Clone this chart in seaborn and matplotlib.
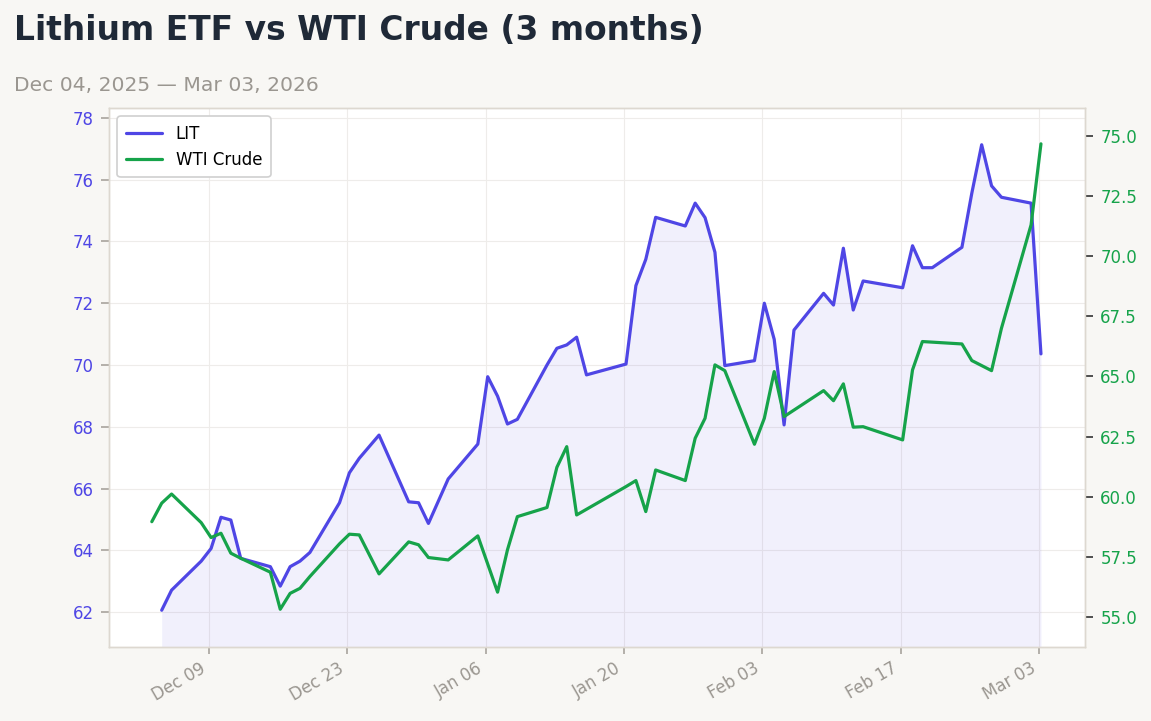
import matplotlib
matplotlib.use("Agg")
import numpy as np
import pandas as pd
import matplotlib.pyplot as plt
import matplotlib.dates as mdates
import matplotlib.ticker as mticker
import seaborn as sns

nan = np.nan

dates = [
    "2025-12-03", "2025-12-04", "2025-12-05", "2025-12-08", "2025-12-09", "2025-12-10",
    "2025-12-11", "2025-12-12", "2025-12-15", "2025-12-16", "2025-12-17", "2025-12-18",
    "2025-12-19", "2025-12-22", "2025-12-23", "2025-12-24", "2025-12-26", "2025-12-29",
    "2025-12-30", "2025-12-31", "2026-01-02", "2026-01-05", "2026-01-06", "2026-01-07",
    "2026-01-08", "2026-01-09", "2026-01-12", "2026-01-13", "2026-01-14", "2026-01-15",
    "2026-01-16", "2026-01-20", "2026-01-21", "2026-01-22", "2026-01-23", "2026-01-26",
    "2026-01-27", "2026-01-28", "2026-01-29", "2026-01-30", "2026-02-02", "2026-02-03",
    "2026-02-04", "2026-02-05", "2026-02-06", "2026-02-09", "2026-02-10", "2026-02-11",
    "2026-02-12", "2026-02-13", "2026-02-17", "2026-02-18", "2026-02-19", "2026-02-20",
    "2026-02-23", "2026-02-24", "2026-02-25", "2026-02-26", "2026-02-27", "2026-03-02",
    "2026-03-03",
]

lit_close = [
    nan, 62.06, 62.71, 63.65, 64.06, 65.07,
    64.98, 63.74, 63.47, 62.84, 63.47, 63.65,
    63.93, 65.54, 66.51, 66.98, 67.73, 65.57,
    65.54, 64.87, 66.31, 67.44, 69.62, 68.99,
    68.09, 68.24, 70.00, 70.54, 70.65, 70.90,
    69.68, 70.03, 72.57, 73.42, 74.78, 74.50,
    75.24, 74.77, 73.65, 69.98, 70.14, 72.00,
    70.83, 68.06, 71.13, 72.32, 71.94, 73.78,
    71.78, 72.72, 72.50, 73.86, 73.15, 73.15,
    73.81, 75.56, 77.13, 75.80, 75.43, 75.24,
    70.36,
]

wti_close = [
    58.96, 59.73, 60.11, 58.92, 58.30, 58.48,
    57.65, 57.44, 56.86, 55.32, 55.98, 56.19,
    56.68, 58.04, 58.44, 58.41, 56.79, 58.12,
    58.00, 57.47, 57.37, 58.37, nan, 56.03,
    57.79, 59.17, 59.55, 61.22, 62.08, 59.24,
    nan, 60.42, 60.67, 59.38, 61.11, 60.67,
    62.43, 63.26, 65.48, 65.24, 62.18, 63.26,
    65.20, 63.33, nan, 64.41, 63.99, 64.69,
    62.89, 62.91, 62.36, 65.27, 66.45, nan,
    66.35, 65.66, nan, 65.24, 67.00, 71.30,
    74.67,
]

series_names = ["LIT", "WTI Crude"]
tick_dates = ["2025-12-09", "2025-12-23", "2026-01-06", "2026-01-20",
              "2026-02-03", "2026-02-17", "2026-03-03"]
lit_ticks = [62, 64, 66, 68, 70, 72, 74, 76, 78]
wti_ticks = [55.0, 57.5, 60.0, 62.5, 65.0, 67.5, 70.0, 72.5, 75.0]

title = "Lithium ETF vs WTI Crude (3 months)"
subtitle = "Dec 04, 2025 \u2014 Mar 03, 2026"

BG = "#F8F7F4"
LIT_C = "#4F46E5"
WTI_C = "#16A34A"
SPINE = "#DDD8D0"
GREY = "#9A9690"
TITLE_C = "#1F2937"

sns.set_style("white")
plt.rcParams["font.family"] = ["DejaVu Sans"]

df = pd.DataFrame({
    "date": pd.to_datetime(dates) + pd.Timedelta(hours=5),
    "LIT": lit_close,
    "WTI Crude": wti_close,
})
lit_df = df.dropna(subset=["LIT"]).reset_index(drop=True)
wti_df = df.dropna(subset=["WTI Crude"]).reset_index(drop=True)

fig = plt.figure(figsize=(11.51, 7.21), dpi=100, facecolor=BG)
ax = fig.add_axes([109 / 1151, 1 - 647 / 721, (1085 - 109) / 1151, (647 - 108) / 721])
ax.set_facecolor("white")
ax2 = ax.twinx()

y_lo, y_hi = 60.87, 78.32
sns.lineplot(data=lit_df, x="date", y="LIT", ax=ax, color=LIT_C, linewidth=2.3,
             label=series_names[0], legend=False)
ax.fill_between(lit_df["date"], lit_df["LIT"], y_lo, color=LIT_C, alpha=0.08, linewidth=0)
sns.lineplot(data=wti_df, x="date", y="WTI Crude", ax=ax2, color=WTI_C, linewidth=2.3,
             label=series_names[1], legend=False)

ax.set_ylim(y_lo, y_hi)
ax2.set_ylim(53.75, 76.16)
ax.set_xlim(pd.Timestamp("2025-11-28 21:00"), pd.Timestamp("2026-03-07 16:00"))

ax.set_xticks(pd.to_datetime(tick_dates))
ax.xaxis.set_major_formatter(mdates.DateFormatter("%b %d"))
ax.set_yticks(lit_ticks)
ax2.set_yticks(wti_ticks)
ax2.yaxis.set_major_formatter(mticker.FormatStrFormatter("%.1f"))

ax.set_xlabel("")
ax.set_ylabel("")
ax2.set_ylabel("")

ax.grid(True, color="#EEECEA", linewidth=0.8)
ax.set_axisbelow(True)
ax2.grid(False)

for a in (ax, ax2):
    for s in a.spines.values():
        s.set_color(SPINE)
        s.set_linewidth(1.0)

ax.tick_params(axis="y", which="both", left=True, length=6, width=1.2, color="#A8A39D",
               labelcolor=LIT_C, labelsize=12, pad=5)
ax.tick_params(axis="x", which="both", bottom=True, length=5, width=1.2, color="#A8A39D",
               labelcolor=GREY, labelsize=12, pad=4)
ax2.tick_params(axis="y", which="both", right=True, length=6, width=1.2, color="#333333",
                labelcolor=WTI_C, labelsize=12, pad=5)
for lbl in ax.get_xticklabels():
    lbl.set_rotation(30)
    lbl.set_ha("right")

h1, l1 = ax.get_legend_handles_labels()
h2, l2 = ax2.get_legend_handles_labels()
leg = ax2.legend(h1 + h2, l1 + l2, loc="upper left", fontsize=12, frameon=True,
                 fancybox=True, framealpha=1.0, borderpad=0.5, handlelength=2.2,
                 labelcolor="black")
leg.get_frame().set_edgecolor("#D0D0D0")
leg.get_frame().set_linewidth(1.2)

fig.text(14 / 1151, 1 - 40 / 721, title, fontsize=23.7, fontweight="bold", color=TITLE_C,
         ha="left", va="baseline")
fig.text(14 / 1151, 1 - 91 / 721, subtitle, fontsize=14.6, color=GREY, ha="left", va="baseline")

fig.savefig("out.png", dpi=100, facecolor=BG)
